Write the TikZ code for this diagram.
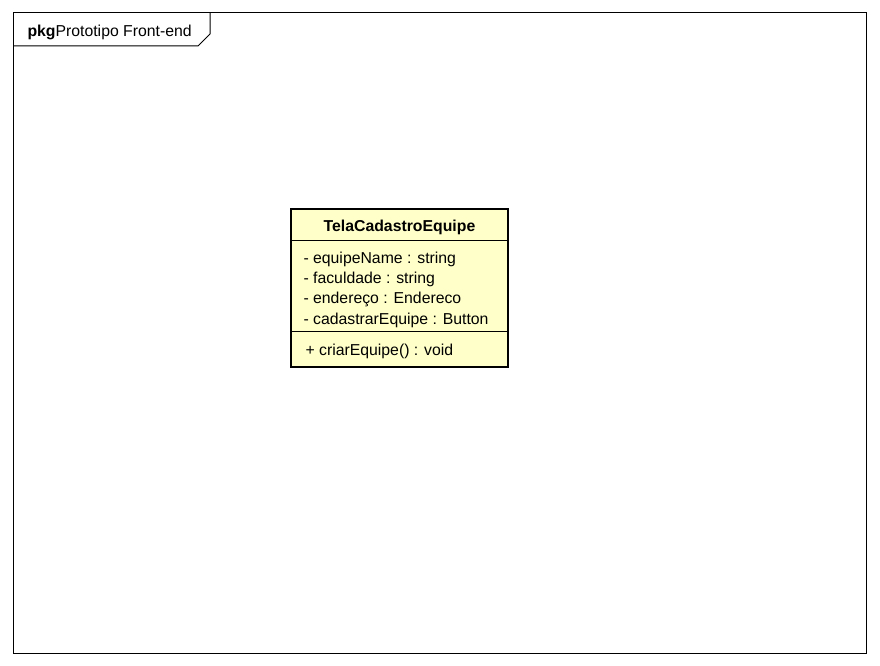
\documentclass[tikz,border=0pt]{standalone}
\usepackage{fontspec}
\setmainfont{Liberation Sans}
\definecolor{clsfill}{HTML}{FFFFCA}
\begin{document}
\begin{tikzpicture}[x=1pt,y=-1pt,line width=1pt,txt/.style={inner sep=0pt,font=\fontsize{15.8}{18}\selectfont},attr/.style={txt,anchor=west}]
\useasboundingbox (0,0) rectangle (880,666);
\draw (13,13) rectangle (866,653);
\draw (13,46) -- (198,46) -- (210,34) -- (210,13);
\node[txt,anchor=base west] (pkg) at (27,37) {\textbf{pkg}Prototipo Front-end};
\draw[fill=clsfill,line width=2pt] (291,209) rectangle (508,367);
\draw (291,240) -- (508,240);
\draw (291,331) -- (508,331);
\node[txt,font=\fontsize{15.8}{18}\selectfont\bfseries] (cls) at (399.5,227) {TelaCadastroEquipe};
\foreach \t [count=\i] in {- equipeName : string,- faculdade : string,- endereço : Endereco,- cadastrarEquipe : Button}{\node[attr] (a\i) at (303,239+20.3*\i) {\t};};
\node[attr] (op1) at (305,351) {+ criarEquipe() : void};
\end{tikzpicture}
\end{document}
